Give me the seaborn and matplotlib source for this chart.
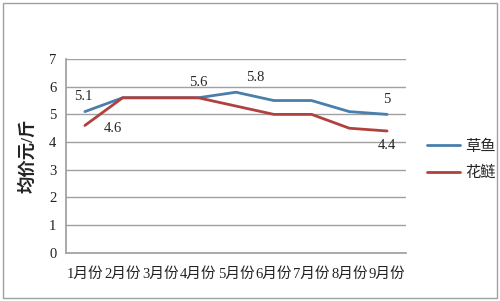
import matplotlib
matplotlib.use("Agg")
import matplotlib.pyplot as plt
import seaborn as sns
import pandas as pd
from matplotlib.patches import Rectangle

months = ["1月份", "2月份", "3月份", "4月份", "5月份", "6月份", "7月份", "8月份", "9月份"]
caoyu = [5.1, 5.6, 5.6, 5.6, 5.8, 5.5, 5.5, 5.1, 5.0]
hualian = [4.6, 5.6, 5.6, 5.6, 5.3, 5.0, 5.0, 4.5, 4.4]
series_names = ["草鱼", "花鲢"]
yticks = [0, 1, 2, 3, 4, 5, 6, 7]

sns.set_theme(style="white")
plt.rcParams['font.family'] = ['Liberation Serif', 'Noto Sans CJK SC', 'DejaVu Sans']

df = pd.DataFrame({
    "month": months * 2,
    "price": caoyu + hualian,
    "fish": [series_names[0]] * len(months) + [series_names[1]] * len(months),
})

fig = plt.figure(figsize=(5, 3.01), dpi=100)
ax = fig.add_axes([0.132, 0.16, 0.68, 0.644])
palette = {"草鱼": "#4a7eab", "花鲢": "#b0413e"}
sns.lineplot(data=df, x="month", y="price", hue="fish", palette=palette,
             linewidth=2, ax=ax, sort=False)

ax.set_ylim(0, 7)
ax.set_xlim(-0.5, len(months) - 0.5)
ax.set_yticks(yticks)
ax.yaxis.grid(True, color="#a0a0a0", linewidth=1)
ax.xaxis.grid(False)
for s in ["top", "right"]:
    ax.spines[s].set_visible(False)
ax.spines["left"].set_color("#a0a0a0")
ax.spines["bottom"].set_color("#a0a0a0")
ax.tick_params(axis="both", length=0, labelsize=10.5, colors="#222222")
ax.tick_params(axis="x", pad=10)
ax.tick_params(axis="y", pad=7)
ax.set_xlabel("")
ax.set_ylabel("均价元/斤", fontsize=12.5, fontweight="bold", color="#222222", labelpad=9)

# data labels
ax.annotate("5.1", (0, caoyu[0]), xytext=(-1, 6), textcoords="offset points", ha="center", va="bottom", fontsize=10.5)
ax.annotate("4.6", (0, hualian[0]), xytext=(20, -2), textcoords="offset points", ha="center", va="center", fontsize=10.5)
ax.annotate("5.6", (3, caoyu[3]), xytext=(0, 6), textcoords="offset points", ha="center", va="bottom", fontsize=10.5)
ax.annotate("5.8", (4, caoyu[4]), xytext=(14, 6), textcoords="offset points", ha="center", va="bottom", fontsize=10.5)
ax.annotate("5", (8, caoyu[8]), xytext=(0, 6), textcoords="offset points", ha="center", va="bottom", fontsize=10.5)
ax.annotate("4.4", (8, hualian[8]), xytext=(0, -6), textcoords="offset points", ha="center", va="top", fontsize=10.5)

leg = ax.legend(title=None, loc="center left", bbox_to_anchor=(1.02, 0.48),
                frameon=False, fontsize=11, handlelength=2.2, handletextpad=0.3,
                labelspacing=0.8)
for line in leg.get_lines():
    line.set_linewidth(2)

fig.patches.append(Rectangle((0.006, 0.01), 0.988, 0.98, transform=fig.transFigure,
                             fill=False, edgecolor="#a0a0a0", linewidth=1))

fig.savefig("out.png", dpi=100)
